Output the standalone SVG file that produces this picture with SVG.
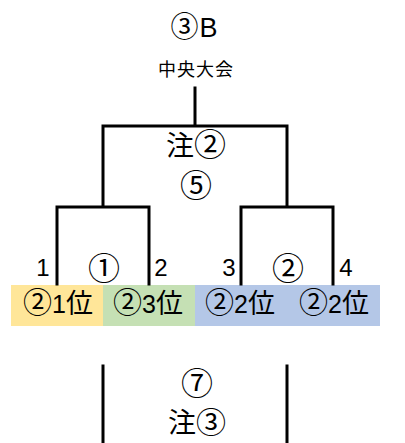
<svg xmlns="http://www.w3.org/2000/svg" width="405" height="443" viewBox="0 0 405 443">
<style>
text{font-family:"Liberation Sans","Noto Sans CJK JP",sans-serif;fill:#000;text-anchor:middle}
.cj{font-family:"Noto Sans CJK JP",sans-serif}
.big{font-size:25px}
.num{font-size:24px}
.c1{font-size:32px}
.c2{font-size:29px}
.c3{font-size:28px}
.kan{font-size:27px}
.sm{font-size:18px;letter-spacing:1px}
.ln{stroke:#000;stroke-width:3;fill:none;stroke-linecap:square}
</style>
<rect width="405" height="443" fill="#fff"/>
<g id="band">
<rect x="11" y="285" width="92" height="41" fill="#FFE699"/>
<rect x="103" y="285" width="92" height="41" fill="#C5E0B4"/>
<rect x="195" y="285" width="185" height="41" fill="#B4C7E7"/>
</g>
<g id="connectors">
<path class="ln" d="M195,88 V126 M103,205 V126 H287 V205"/>
<path class="ln" d="M57,284 V207 H149 V284"/>
<path class="ln" d="M241,284 V207 H333 V284"/>
<path class="ln" d="M103,366 V443 M287,366 V443"/>
</g>
<g id="final"><text x="194" y="37" style="font-size:27px"><tspan class="cj c3">③</tspan><tspan dx="1">B</tspan></text><text class="sm cj" x="196" y="76">中央大会</text></g>
<g id="match5"><text class="big cj" x="196" y="156"><tspan style="font-size:28px">注</tspan><tspan class="c1">②</tspan></text><text class="cj c1" x="196" y="197">⑤</text></g>
<g id="match1"><text class="num" x="43" y="276">1</text><text class="cj c1" x="104" y="280">①</text><text class="num" x="161" y="276">2</text></g>
<g id="match2"><text class="num" x="229" y="276">3</text><text class="cj c1" x="288" y="280">②</text><text class="num" x="346" y="276">4</text></g>
<g id="seeds" class="big">
<text x="58" y="313"><tspan class="cj c2">②</tspan>1<tspan class="cj kan">位</tspan></text>
<text x="148" y="313"><tspan class="cj c2">②</tspan>3<tspan class="cj kan">位</tspan></text>
<text x="240" y="313"><tspan class="cj c2">②</tspan>2<tspan class="cj kan">位</tspan></text>
<text x="334" y="313"><tspan class="cj c2">②</tspan>2<tspan class="cj kan">位</tspan></text>
</g>
<g id="match7"><text class="cj c1" x="197" y="395">⑦</text><text class="cj" x="197" y="433"><tspan style="font-size:28px">注</tspan><tspan style="font-size:30px">③</tspan></text></g>
</svg>
